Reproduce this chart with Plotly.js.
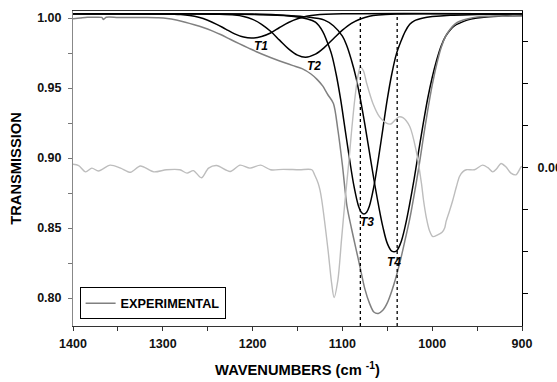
<!DOCTYPE html>
<html>
<head>
<meta charset="utf-8">
<script src="https://cdn.plot.ly/plotly-3.0.1.min.js"></script>
<style>html,body{margin:0;padding:0;background:#fff;}#chart{width:557px;height:382px;}</style>
</head>
<body>
<div id="chart"></div>
<script>
// ---- data ----
const expWave = [1400,1392,1384,1374,1368,1366,1363,1350,1335,1320,1305,1295,1285,1275,1265,1255,1245,1235,1225,1215,1205,1195,1185,1175,1165,1155,1145,1135,1128,1122,1116,1110,1105,1100,1095,1090,1085,1080,1075,1070,1065,1060,1055,1050,1045,1040,1035,1030,1025,1020,1015,1010,1005,1000,995,990,985,980,975,970,960,950,940,930,920,910,900];
const expTrans = [0.9995,1.0000,1.0005,1.0006,1.0004,0.9990,1.0005,1.0004,1.0004,1.0003,1.0001,0.9996,0.9985,0.9970,0.9952,0.9932,0.9908,0.9880,0.9848,0.9817,0.9787,0.9757,0.9730,0.9705,0.9682,0.9660,0.9638,0.9600,0.9560,0.9515,0.9450,0.9390,0.9200,0.8950,0.8660,0.8500,0.8355,0.8210,0.8065,0.7965,0.7900,0.7890,0.7912,0.7965,0.8050,0.8155,0.8280,0.8420,0.8565,0.8740,0.8930,0.9140,0.9340,0.9520,0.9670,0.9790,0.9870,0.9920,0.9955,0.9975,0.9995,1.0008,1.0012,1.0015,1.0012,1.0016,1.0015];

const derivWave = [1400,1393.7,1386,1379,1371.6,1358.6,1347,1336,1325,1310,1296,1281,1273,1266,1257,1249,1240,1225,1214,1203,1191,1180,1166,1148,1134,1131,1127,1125,1123,1116,1112,1109.3,1105,1101,1097,1093,1090,1086.3,1083,1080,1076.5,1073,1066,1058.6,1051,1046,1041,1037,1032.6,1025,1018,1012,1009.7,1006.7,1003,999.3,994,989,986,984.5,981,977,973,969.6,966,962,953,944,938,932.6,928,923.4,918,912.3,906.7,901,900];
const derivVal = [0.0008,0.0005,-0.0010,-0.0001,-0.0008,0.0006,-0.0001,-0.0011,0.0004,-0.0010,-0.0005,-0.0005,-0.0013,-0.0007,-0.0024,-0.0001,0.0005,-0.0009,0.0006,-0.0001,0.0006,-0.0005,-0.0004,-0.0005,-0.0005,-0.0017,-0.0037,-0.0053,-0.0077,-0.0196,-0.0275,-0.0309,-0.0267,-0.0172,-0.0077,0.0010,0.0082,0.0161,0.0215,0.0240,0.0230,0.0201,0.0153,0.0121,0.0106,0.0104,0.0114,0.0121,0.0119,0.0098,0.0042,-0.0037,-0.0077,-0.0117,-0.0150,-0.0164,-0.0160,-0.0154,-0.0143,-0.0128,-0.0105,-0.0077,-0.0045,-0.0021,-0.0010,-0.0005,-0.0005,0.0006,0.0000,-0.0010,-0.0002,0.0010,0.0002,-0.0013,-0.0017,0.0002,0.0003];

const t1Wave = [1400,1300,1280,1270,1260,1250,1240,1230,1220,1210,1201,1190,1180,1170,1160,1150,1140,1130,1100,900];
const t1Trans = [1.0030,1.0029,1.0025,1.0018,1.0005,0.9984,0.9955,0.9921,0.9887,0.9864,0.9857,0.9868,0.9893,0.9932,0.9968,0.9995,1.0012,1.0022,1.0030,1.0030];

const t2Wave = [1400,1300,1270,1240,1220,1210,1200,1190,1180,1170,1160,1150,1141,1130,1120,1110,1100,1090,1080,1070,1060,1040,1000,900];
const t2Trans = [1.0030,1.0030,1.0030,1.0027,1.0021,1.0011,0.9990,0.9955,0.9905,0.9842,0.9780,0.9735,0.9720,0.9742,0.9790,0.9852,0.9913,0.9962,0.9993,1.0013,1.0022,1.0028,1.0030,1.0030];

const t3Wave = [1400,1300,1200,1160,1140,1130,1122,1117,1112,1107,1102,1097,1092,1087,1082,1079,1076,1073,1070,1065,1060,1055,1050,1045,1040,1035,1030,1025,1020,1010,1000,980,950,900];
const t3Trans = [1.0030,1.0030,1.0025,1.0015,0.9995,0.9970,0.9905,0.9830,0.9740,0.9600,0.9420,0.9205,0.8990,0.8795,0.8655,0.8613,0.8600,0.8613,0.8655,0.8795,0.8990,0.9205,0.9420,0.9600,0.9740,0.9830,0.9905,0.9955,0.9980,1.0000,1.0010,1.0020,1.0025,1.0030];

const t4Wave = [1400,1300,1200,1160,1140,1120,1110,1100,1095,1090,1085,1080,1075,1070,1065,1060,1055,1050,1045,1040,1035,1030,1025,1020,1015,1010,1005,1000,995,990,985,980,975,970,960,950,940,920,900];
const t4Trans = [1.0030,1.0030,1.0028,1.0018,1.0008,0.9985,0.9945,0.9870,0.9800,0.9700,0.9580,0.9420,0.9240,0.9045,0.8850,0.8670,0.8510,0.8390,0.8335,0.8335,0.8395,0.8515,0.8675,0.8855,0.9052,0.9245,0.9425,0.9575,0.9700,0.9800,0.9870,0.9915,0.9945,0.9962,0.9988,1.0000,1.0008,1.0015,1.0018];

const bandLabels = ['T1','T2','T3','T4'];
const markerWaves = [1080, 1039];

const xTickVals = [1400,1300,1200,1100,1000,900];
const xTickText = ['1400','1300','1200','1100','1000','900'];
const yTickVals = [0.80,0.85,0.90,0.95,1.00];
const yTickText = ['0.80','0.85','0.90','0.95','1.00'];
const y2TickVals = [0];
const y2TickText = ['0.00'];

// ---- drawing ----
const FONT = 'Liberation Sans, Arial, sans-serif';
const blackLine = {color:'#000', width:1.5, shape:'spline', smoothing:1};

const traces = [
  {x:derivWave, y:derivVal, yaxis:'y2', mode:'lines', showlegend:false,
   line:{color:'#bdbdbd', width:1.4, shape:'spline', smoothing:0.8}, hoverinfo:'skip'},
  {x:t1Wave, y:t1Trans, mode:'lines', showlegend:false, line:blackLine},
  {x:t2Wave, y:t2Trans, mode:'lines', showlegend:false, line:blackLine},
  {x:t3Wave, y:t3Trans, mode:'lines', showlegend:false, line:blackLine},
  {x:t4Wave, y:t4Trans, mode:'lines', showlegend:false, line:blackLine},
  {x:expWave, y:expTrans, mode:'lines', name:'EXPERIMENTAL',
   line:{color:'#808080', width:1.5, shape:'spline', smoothing:0.8}}
];

const labelPos = [[1190.2,0.9799],[1131.9,0.9656],[1073,0.8541],[1043,0.8259]];
const annotations = bandLabels.map((t,i)=>({
  x:labelPos[i][0], y:labelPos[i][1], xref:'x', yref:'y', text:t, showarrow:false,
  font:{family:FONT, size:12, weight:'bold', style:'italic', color:'#000'}
}));

const shapes = markerWaves.map(w=>({
  type:'line', xref:'x', yref:'paper', x0:w, x1:w, y0:0, y1:0.993,
  line:{color:'#000', width:1.3, dash:'dot'}
}));

const tickFont = {family:FONT, size:12.5, weight:'bold', color:'#111'};
const titleFont = {family:FONT, size:14.7, weight:'bold', color:'#000'};

const layout = {
  width:557, height:382,
  margin:{l:73, r:35, t:11, b:56},
  paper_bgcolor:'#fff', plot_bgcolor:'#fff',
  font:{family:FONT, size:12, color:'#000'},
  showlegend:true,
  legend:{x:0.0147, y:0.021, xanchor:'left', yanchor:'bottom',
    bordercolor:'#000', borderwidth:1, bgcolor:'#fff',
    font:{family:FONT, size:12.7, weight:'bold', color:'#000'}},
  xaxis:{range:[1400,900], tickmode:'array', tickvals:xTickVals, ticktext:xTickText,
    ticks:'outside', ticklen:4, tickcolor:'#333', showline:true, linecolor:'#333', linewidth:1,
    minor:{tickmode:'linear', tick0:900, dtick:50, ticks:'outside', ticklen:4, tickcolor:'#333', showgrid:false},
    mirror:true, showgrid:false, zeroline:false, ticklabelstandoff:2,
    tickfont:tickFont,
    title:{text:'WAVENUMBERS (cm <sup>-1</sup>)', font:titleFont, standoff:14}},
  yaxis:{range:[0.78,1.005], tickmode:'array', tickvals:yTickVals, ticktext:yTickText,
    ticks:'outside', ticklen:4, tickcolor:'#777', showline:true, linecolor:'#888', linewidth:1,
    minor:{tickmode:'linear', tick0:0.8, dtick:0.025, ticks:'outside', ticklen:4, tickcolor:'#777', showgrid:false},
    showgrid:false, zeroline:false, ticklabelstandoff:4,
    tickfont:tickFont,
    title:{text:'TRANSMISSION', font:titleFont, standoff:12}},
  yaxis2:{overlaying:'y', side:'right', range:[-0.0377,0.0373], tickmode:'array',
    tickvals:y2TickVals, ticktext:y2TickText,
    ticks:'outside', ticklen:5, tickcolor:'#000', showline:true, linecolor:'#000', linewidth:1,
    minor:{tickmode:'linear', tick0:0, dtick:0.01, ticks:'outside', ticklen:5, tickcolor:'#000', showgrid:false},
    showgrid:false, zeroline:false, ticklabelstandoff:7,
    tickfont:tickFont},
  annotations:annotations,
  shapes:shapes
};

Plotly.newPlot('chart', traces, layout, {staticPlot:true, displayModeBar:false});
</script>
</body>
</html>
